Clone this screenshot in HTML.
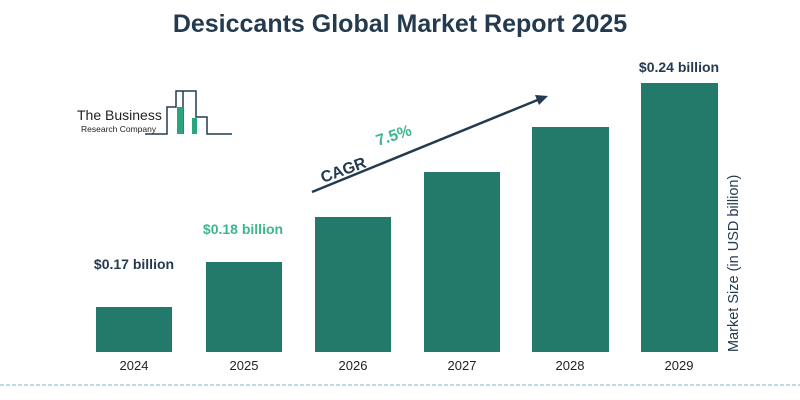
<!DOCTYPE html>
<html><head><style>
body{margin:0;background:#fff;}
svg{display:block;}
text{font-family:"Liberation Sans",sans-serif;}
</style></head><body>
<svg width="800" height="400" viewBox="0 0 800 400">
<text x="400" y="32" text-anchor="middle" font-size="25" font-weight="bold" fill="#243a4f">Desiccants Global Market Report 2025</text>
<!-- logo -->
<text x="77" y="120" font-size="14" fill="#222">The Business</text>
<text x="81" y="132" font-size="8.5" fill="#222">Research Company</text>
<g fill="none" stroke="#243a4f" stroke-width="1.5">
<polyline points="145,134 167,134 167,107 176,107 176,91 196,91 196,117 207,117 207,134 232,134"/>
<polyline points="183,91 183,134"/>
</g>
<rect x="177" y="107" width="6" height="27" fill="#2aa67f"/>
<rect x="192" y="118" width="5" height="16" fill="#2aa67f"/>
<!-- bars -->
<g fill="#237a6b">
<rect x="96" y="307" width="76" height="45"/>
<rect x="206" y="262" width="76" height="90"/>
<rect x="315" y="217" width="76" height="135"/>
<rect x="424" y="172" width="76" height="180"/>
<rect x="532" y="127" width="77" height="225"/>
<rect x="641" y="83" width="77" height="269"/>
</g>
<g font-size="13" fill="#222" text-anchor="middle">
<text x="134" y="370">2024</text><text x="244" y="370">2025</text><text x="353" y="370">2026</text>
<text x="462" y="370">2027</text><text x="570" y="370">2028</text><text x="679" y="370">2029</text>
</g>
<text x="134" y="269" text-anchor="middle" font-size="14" font-weight="bold" fill="#243a4f">$0.17 billion</text>
<text x="243" y="234" text-anchor="middle" font-size="14" font-weight="bold" fill="#3bb88a">$0.18 billion</text>
<text x="679" y="72" text-anchor="middle" font-size="14" font-weight="bold" fill="#243a4f">$0.24 billion</text>
<!-- CAGR -->
<line x1="312" y1="192" x2="540" y2="99" stroke="#243a4f" stroke-width="2.5"/>
<polygon points="548,96 535,95 539,105" fill="#243a4f"/>
<text x="0" y="0" transform="translate(323,183) rotate(-20)" font-size="16" font-weight="bold" fill="#243a4f">CAGR</text>
<text x="0" y="0" transform="translate(378,146) rotate(-18)" font-size="16" font-weight="bold" fill="#3bb88a">7.5%</text>
<text x="0" y="0" transform="translate(738,352) rotate(-90)" font-size="14.5" fill="#243a4f">Market Size (in USD billion)</text>
<line x1="0" y1="385" x2="800" y2="385" stroke="#7fb8c0" stroke-width="1" stroke-dasharray="4,2"/>
</svg>
</body></html>
